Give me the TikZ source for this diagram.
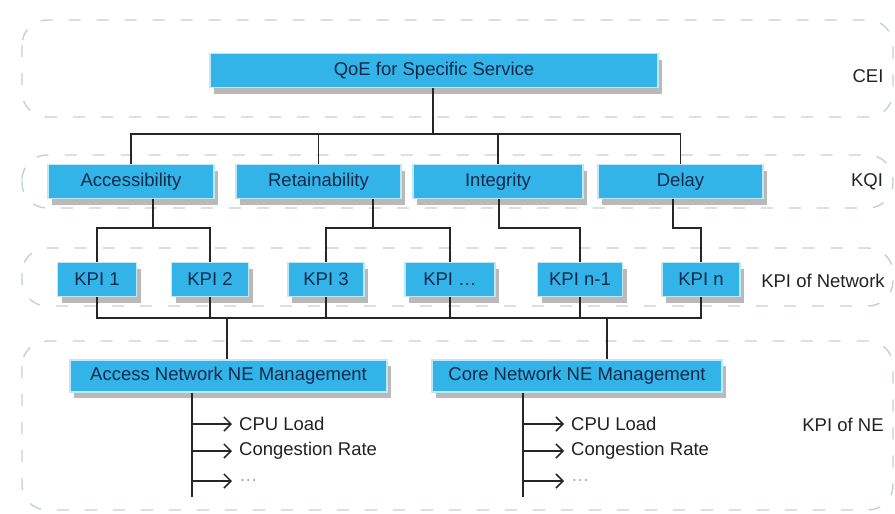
\documentclass[tikz,border=0pt]{standalone}
\usepackage{fontspec}
\setmainfont{Liberation Sans}
\usetikzlibrary{shadows,arrows.meta}
\definecolor{boxblue}{HTML}{33B4E8}
\definecolor{boxedge}{HTML}{BFE7F6}
\definecolor{navy}{HTML}{14294A}
\definecolor{bandc}{HTML}{C4D0D4}
\definecolor{txtc}{HTML}{222222}
\tikzset{
  bx/.style={fill=boxblue, draw=boxedge, line width=1.2pt, text=navy,
    minimum height=34pt, inner sep=0pt,
    font=\fontsize{18.5}{21}\selectfont,
    drop shadow={shadow xshift=4pt, shadow yshift=-6pt, fill=black!55, opacity=0.5}},
  band/.style={draw=bandc, line width=1.4pt, dash pattern=on 12pt off 16pt, rounded corners=25pt},
  lbl/.style={text=txtc, font=\fontsize{18.5}{21}\selectfont},
  ln/.style={line width=1.8pt, draw=black!85},
  arr/.style={line width=1.8pt, draw=black!85, -{Straight Barb[length=7pt,width=14pt,line width=1.5pt]}},
  itm/.style={anchor=west, inner xsep=7pt, text=txtc, font=\fontsize{18.5}{21}\selectfont}
}
\begin{document}
\begin{tikzpicture}[x=1pt,y=-1pt]
\useasboundingbox (0,0) rectangle (895,514);
% bands
\draw[band] (22,20) rectangle (893,117);
\draw[band] (22,155) rectangle (893,208);
\draw[band] (22,248) rectangle (893,306);
\draw[band] (22,341) rectangle (893,510);
% boxes
\node[bx, minimum width=448pt] (qoe) at (434,70.5) {QoE for Specific Service};
\node[bx, minimum width=166pt] (acc) at (131,181.5) {Accessibility};
\node[bx, minimum width=165pt] (ret) at (318.5,181.5) {Retainability};
\node[bx, minimum width=170pt] (integ) at (498,181.5) {Integrity};
\node[bx, minimum width=165pt] (delay) at (680.5,181.5) {Delay};
\node[bx, minimum width=79pt] (k1) at (97,279.5) {KPI 1};
\node[bx, minimum width=77pt] (k2) at (210,279.5) {KPI 2};
\node[bx, minimum width=76pt] (k3) at (326,279.5) {KPI 3};
\node[bx, minimum width=90pt] (k4) at (450,279.5) {KPI …};
\node[bx, minimum width=85pt] (k5) at (580,279.5) {KPI n-1};
\node[bx, minimum width=78pt] (k6) at (701,279.5) {KPI n};
\node[bx, minimum width=317pt, minimum height=32pt] (ane) at (228.5,376) {Access Network NE Management};
\node[bx, minimum width=290pt, minimum height=32pt] (cne) at (577,376) {Core Network NE Management};
% right labels
\node[lbl] (lcei) at (868,76) {CEI};
\node[lbl] (lkqi) at (867,182) {KQI};
\node[lbl] (lkpin) at (823,281) {KPI of Network};
\node[lbl] (lkpine) at (843,425) {KPI of NE};
% QoE tree
\coordinate (t) at (433,134);
\draw[ln] (qoe.south -| t) -- (t);
\draw[ln] (acc.north) |- (t) -| (delay.north);
\draw[ln] (ret.north) -- (ret.north |- t);
\draw[ln] (integ.north) -- (integ.north |- t);
% KQI -> KPI
\coordinate (j1) at (153,228);
\coordinate (j2) at (373,228);
\coordinate (j3) at (499,228);
\coordinate (j4) at (673,228);
\draw[ln] (acc.south -| j1) -- (j1);
\draw[ln] (k1.north) |- (j1) -| (k2.north);
\draw[ln] (ret.south -| j2) -- (j2);
\draw[ln] (k3.north) |- (j2) -| (k4.north);
\draw[ln] (integ.south -| j3) -- (j3) -| (k5.north);
\draw[ln] (delay.south -| j4) -- (j4) -| (k6.north);
% KPI -> NE
\coordinate (b1) at (227,318);
\coordinate (b2) at (607,318);
\draw[ln] (k1.south) |- (b1) -| (k6.south);
\foreach \k in {k2,k3,k4,k5} \draw[ln] (\k.south) -- (\k.south |- b1);
\draw[ln] (b1) -- (ane.north -| b1);
\draw[ln] (b2) -- (cne.north -| b2);
% lists
\coordinate (l1) at (192,497);
\coordinate (l2) at (523,497);
\draw[ln] (ane.south -| l1) -- (l1);
\draw[ln] (cne.south -| l2) -- (l2);
\node[itm] (a1) at (232,424) {CPU Load};
\node[itm] (a2) at (232,451) {Congestion Rate};
\node[itm, text=black!35] (a3) at (232,481) {…};
\node[itm] (c1) at (564,424) {CPU Load};
\node[itm] (c2) at (564,451) {Congestion Rate};
\node[itm, text=black!35] (c3) at (564,481) {…};
\foreach \n in {a1,a2,a3} \draw[arr] (\n.west -| l1) -- (\n.west);
\foreach \n in {c1,c2,c3} \draw[arr] (\n.west -| l2) -- (\n.west);
\end{tikzpicture}
\end{document}
